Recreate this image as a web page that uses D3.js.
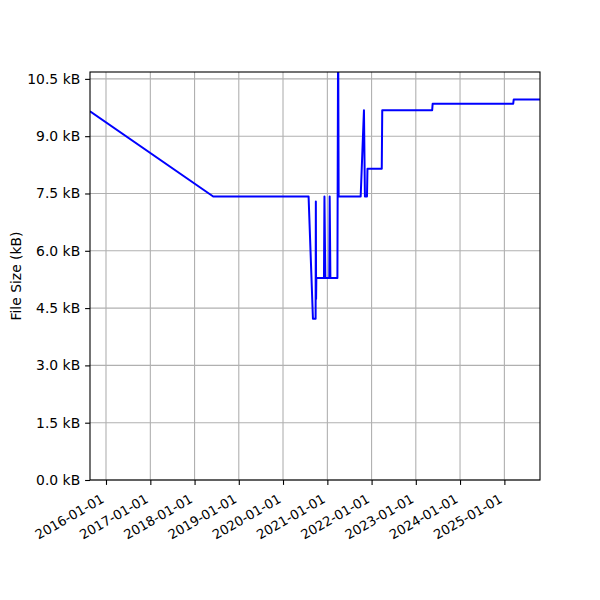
<!DOCTYPE html>
<html>
<head>
<meta charset="utf-8">
<script src="https://cdn.jsdelivr.net/npm/d3@7"></script>
<style>
body { margin: 0; background: #fff; }
</style>
</head>
<body>
<div id="chart"></div>
<script>
// commit dates and file sizes (kB)
var dates = ["2015-08-22", "2018-06-04", "2020-07-30", "2020-09-04", "2020-09-26",
    "2020-09-28", "2020-09-30", "2020-10-02", "2020-12-04", "2020-12-08", "2020-12-15",
    "2021-01-17", "2021-01-20", "2021-01-26", "2021-03-25", "2021-03-31", "2021-04-04",
    "2021-10-03", "2021-10-30", "2021-11-07", "2021-11-24", "2021-11-28", "2022-03-26",
    "2022-03-30", "2023-05-16", "2023-05-20", "2025-03-15", "2025-03-19", "2025-10-22"];
var sizes = [9.65, 7.42, 7.42, 4.22, 4.22,
    7.29, 4.74, 5.29, 5.29, 7.42, 5.29,
    5.29, 7.42, 5.29, 5.29, 12.0, 7.42,
    7.42, 9.68, 7.42, 7.42, 8.15, 8.15,
    9.68, 9.68, 9.85, 9.85, 9.96, 9.96];
var yTicks = [0, 1.5, 3.0, 4.5, 6.0, 7.5, 9.0, 10.5];

var width = 600, height = 600;
var margin = {top: 72, right: 60, bottom: 120, left: 90};
var fontSize = "13.9px";
var parse = d3.timeParse("%Y-%m-%d");
var fmt = d3.timeFormat("%Y-%m-%d");

var data = dates.map(function(d, i) { return {date: parse(d), size: sizes[i]}; });

var svg = d3.select("#chart")
    .append("svg")
    .attr("width", width)
    .attr("height", height)
    .attr("style", "font-family:'DejaVu Sans';");

var x = d3.scaleTime()
    .domain(d3.extent(data, function(d) { return d.date; }))
    .range([margin.left, width - margin.right]);
var y = d3.scaleLinear()
    .domain([0, 10.68])
    .range([height - margin.bottom, margin.top]);

var xTicks = d3.timeYear.range(parse("2016-01-01"), parse("2025-06-01"));

// grid
svg.append("g")
    .selectAll("line")
    .data(xTicks)
    .enter().append("line")
    .attr("x1", function(d) { return x(d); })
    .attr("x2", function(d) { return x(d); })
    .attr("y1", y.range()[0])
    .attr("y2", y.range()[1])
    .style("stroke", "#b0b0b0")
    .style("stroke-width", 1.1);
svg.append("g")
    .selectAll("line")
    .data(yTicks)
    .enter().append("line")
    .attr("x1", x.range()[0])
    .attr("x2", x.range()[1])
    .attr("y1", function(d) { return y(d); })
    .attr("y2", function(d) { return y(d); })
    .style("stroke", "#b0b0b0")
    .style("stroke-width", 1.1);

svg.append("clipPath")
    .attr("id", "plotclip")
    .append("rect")
    .attr("x", margin.left)
    .attr("y", margin.top)
    .attr("width", width - margin.left - margin.right)
    .attr("height", height - margin.top - margin.bottom);

var line = d3.line()
    .x(function(d) { return x(d.date); })
    .y(function(d) { return y(d.size); });

svg.append("path")
    .datum(data)
    .attr("clip-path", "url(#plotclip)")
    .attr("d", line)
    .style("fill", "none")
    .style("stroke", "blue")
    .style("stroke-width", 2)
    .style("stroke-linejoin", "round");

// axes
var xAxis = svg.append("g")
    .attr("transform", "translate(0," + (height - margin.bottom) + ")")
    .call(d3.axisBottom(x).tickValues(xTicks).tickFormat(fmt).tickSize(4.9).tickPadding(4.9));
xAxis.select(".domain").remove();
xAxis.selectAll("text")
    .attr("text-anchor", "end")
    .attr("dy", null)
    .attr("y", 0)
    .attr("transform", "translate(-1.5,21.5) rotate(-30)")
    .style("font-family", "'DejaVu Sans'")
    .style("font-size", "13.2px")
    .style("fill", "#000");

var yAxis = svg.append("g")
    .attr("transform", "translate(" + margin.left + ",0)")
    .call(d3.axisLeft(y).tickValues(yTicks).tickFormat(function(d) { return d.toFixed(1) + " kB"; }).tickSize(4.9).tickPadding(4.9));
yAxis.select(".domain").remove();
yAxis.selectAll("text")
    .style("font-family", "'DejaVu Sans'")
    .style("font-size", fontSize)
    .style("fill", "#000");
svg.selectAll(".tick line").style("stroke", "#000").style("stroke-width", 1.1);

// frame
svg.append("rect")
    .attr("x", margin.left)
    .attr("y", margin.top)
    .attr("width", width - margin.left - margin.right)
    .attr("height", height - margin.top - margin.bottom)
    .style("fill", "none")
    .style("stroke", "#000")
    .style("stroke-width", 1.1);

svg.append("text")
    .attr("transform", "translate(21," + ((margin.top + height - margin.bottom) / 2) + ") rotate(-90)")
    .attr("text-anchor", "middle")
    .style("font-size", fontSize)
    .text("File Size (kB)");
</script>
</body>
</html>
